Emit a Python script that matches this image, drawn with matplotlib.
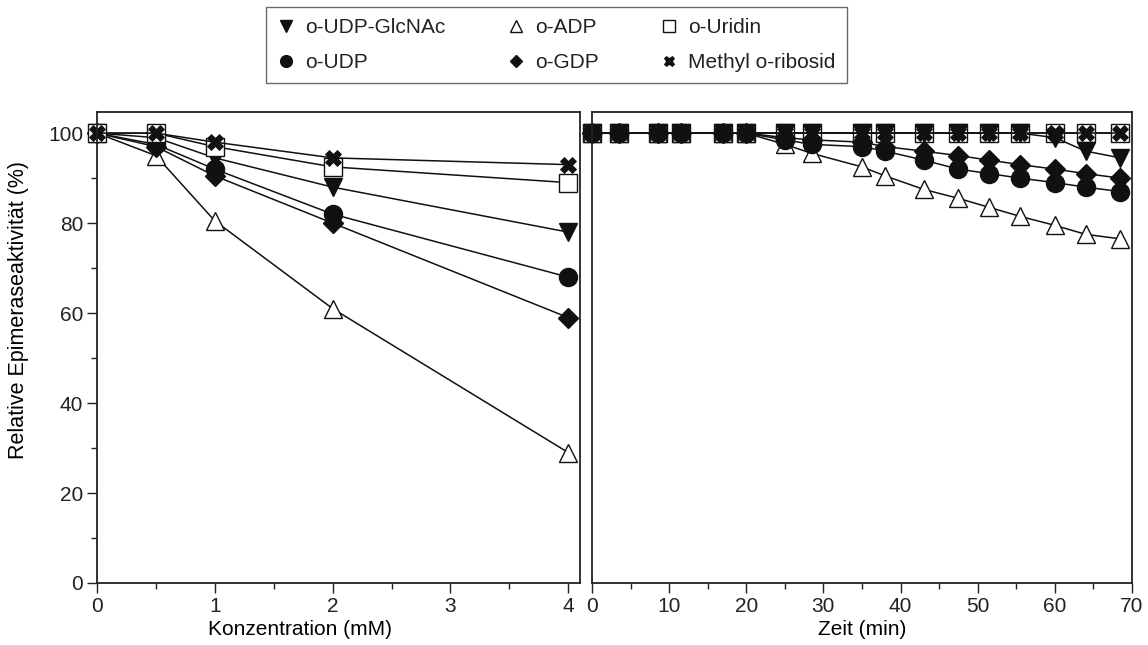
import numpy as np
import matplotlib.pyplot as plt
from matplotlib.ticker import MultipleLocator

plt.rcParams['font.family'] = ['Liberation Sans', 'DejaVu Sans']
plt.rcParams['text.color'] = '#222222'
plt.rcParams['xtick.color'] = '#222222'
plt.rcParams['ytick.color'] = '#222222'

# left panel: concentration series
conc = [0, 0.5, 1, 2, 4]
c_glcnac = [100, 99, 94.5, 88, 78]
c_adp = [100, 95, 80.5, 61, 29]
c_uridin = [100, 100, 97, 92.5, 89]
c_udp = [100, 97.5, 92, 82, 68]
c_gdp = [100, 97, 90.5, 80, 59]
c_methyl = [100, 100, 98, 94.5, 93]

# right panel: time series
zeit = [0, 3.5, 8.5, 11.5, 17, 20, 25, 28.5, 35, 38, 43, 47.5, 51.5, 55.5, 60, 64, 68.5]
t_glcnac = [100, 100, 100, 100, 100, 100, 100, 100, 100, 100, 100, 100, 100, 100, 99, 96, 94.5]
t_adp = [100, 100, 100, 100, 100, 100, 97.5, 95.5, 92.5, 90.5, 87.5, 85.5, 83.5, 81.5, 79.5, 77.5, 76.5]
t_uridin = [100] * 17
t_udp = [100, 100, 100, 100, 100, 100, 98.5, 97.5, 97, 96, 94, 92, 91, 90, 89, 88, 87]
t_gdp = [100, 100, 100, 100, 100, 100, 99, 98.5, 98, 97, 96, 95, 94, 93, 92, 91, 90]
t_methyl = [100] * 17

labels = ['o-UDP-GlcNAc', 'o-ADP', 'o-Uridin', 'o-UDP', 'o-GDP', 'Methyl o-ribosid']
styles = [
    dict(marker='v', mfc='#111111', ms=13),
    dict(marker='^', mfc='white', ms=13),
    dict(marker='s', mfc='white', ms=12.5),
    dict(marker='o', mfc='#111111', ms=13),
    dict(marker='D', mfc='#111111', ms=10),
    dict(marker='X', mfc='#111111', ms=12, mew=0.6),
]

fig = plt.figure(figsize=(11.48, 6.45), dpi=100)
ax1 = fig.add_axes([97/1148, 62/645, 483/1148, 471/645])
ax2 = fig.add_axes([592/1148, 62/645, 540/1148, 471/645])

left_sets = [c_glcnac, c_adp, c_uridin, c_udp, c_gdp, c_methyl]
right_sets = [t_glcnac, t_adp, t_uridin, t_udp, t_gdp, t_methyl]
left_order = [0, 1, 3, 4, 2, 5]
right_order = [2, 1, 5, 0, 3, 4]

handles = {}
for i in left_order:
    st = dict(styles[i])
    st.setdefault('mew', 1.0)
    h, = ax1.plot(conc, left_sets[i], color='#111111', lw=1.1, mec='#111111',
                  clip_on=False, label=labels[i], **st)
    handles[i] = h
for i in right_order:
    st = dict(styles[i])
    st.setdefault('mew', 1.0)
    ax2.plot(zeit, right_sets[i], color='#111111', lw=1.1, mec='#111111',
             clip_on=False, **st)

for ax in (ax1, ax2):
    ax.set_ylim(0, 104.7)
    for sp in ax.spines.values():
        sp.set_linewidth(1.3)
        sp.set_color('#222222')
    ax.tick_params(labelsize=15, width=1.0, length=7, pad=3, direction='out')
    ax.tick_params(which='minor', width=1.0, length=4.5, direction='out')

ax1.set_xlim(0, 4.1)
ax1.xaxis.set_major_locator(MultipleLocator(1))
ax1.xaxis.set_minor_locator(MultipleLocator(0.5))
ax1.yaxis.set_major_locator(MultipleLocator(20))
ax1.yaxis.set_minor_locator(MultipleLocator(10))
ax1.set_xlabel('Konzentration (mM)', fontsize=15)
ax1.set_ylabel('Relative Epimeraseaktivität (%)', fontsize=15.5)
ax1.xaxis.set_label_coords(0.42, -0.078)
ax1.yaxis.set_label_coords(-0.14, 0.58)

ax2.set_xlim(0, 70)
ax2.xaxis.set_major_locator(MultipleLocator(10))
ax2.xaxis.set_minor_locator(MultipleLocator(5))
ax2.tick_params(axis='y', which='both', left=False, labelleft=False)
ax2.set_xlabel('Zeit (min)', fontsize=15)
ax2.xaxis.set_label_coords(0.5, -0.078)

leg_order = [0, 3, 1, 4, 2, 5]
leg = fig.legend([handles[i] for i in leg_order], [labels[i] for i in leg_order],
                 ncol=3, loc='center', bbox_to_anchor=(0.4848, 0.930),
                 fontsize=15, markerscale=0.65, frameon=True, fancybox=False,
                 edgecolor='#444444', handlelength=0.8, handletextpad=0.5,
                 columnspacing=3.0, labelspacing=0.75, borderpad=0.55)
leg.get_frame().set_linewidth(1.0)
for h in leg.legend_handles:
    h.set_linestyle('None')

fig.savefig('out.png', dpi=100)
